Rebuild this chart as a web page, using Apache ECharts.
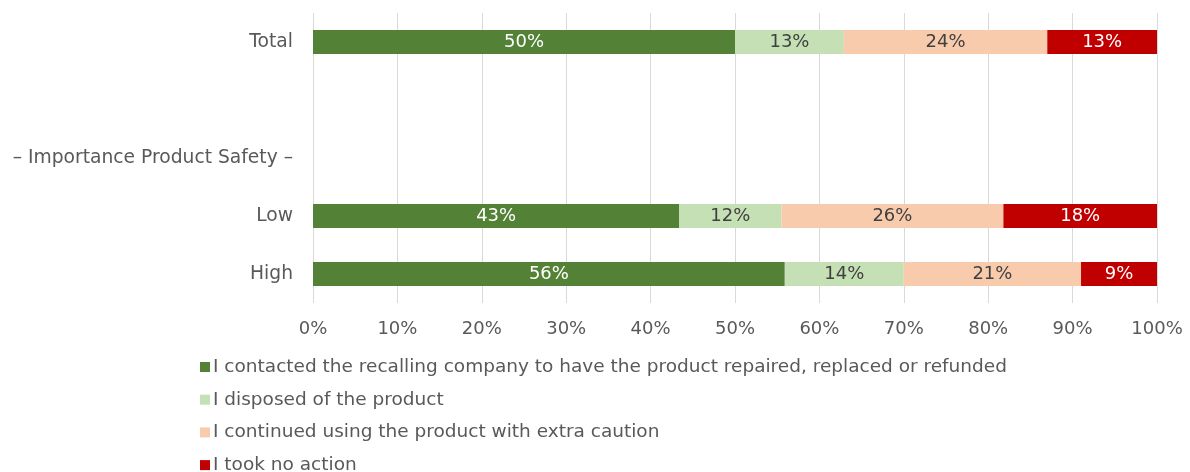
<!DOCTYPE html>
<html>
<head>
<meta charset="utf-8">
<script src="https://cdn.jsdelivr.net/npm/echarts@6/dist/echarts.min.js"></script>
<style>
  html, body { margin: 0; padding: 0; background: #fff; }
  #chart { width: 1190px; height: 472px; }
</style>
</head>
<body>
<div id="chart"></div>
<script>
// Rows, bottom to top
const categories = ['High', 'Low', '– Importance Product Safety –', '', 'Total'];

// Share of respondents (%) per action
const contacted = [55.9, 43.4, null, null, 50.0];
const disposed  = [14.1, 12.1, null, null, 12.9];
const continued = [21.0, 26.3, null, null, 24.1];
const noAction  = [9.0, 18.2, null, null, 13.0];

const seriesNames = [
  'I contacted the recalling company to have the product repaired, replaced or refunded',
  'I disposed of the product',
  'I continued using the product with extra caution',
  'I took no action'
];
const seriesColors = ['#538135', '#C5E0B4', '#F8CBAD', '#C00000'];
const labelColors = ['#ffffff', '#404040', '#404040', '#ffffff'];
const seriesData = [contacted, disposed, continued, noAction];

const FONT = '"DejaVu Sans", sans-serif';

const chart = echarts.init(document.getElementById('chart'), null, { renderer: 'canvas' });

chart.setOption({
  animation: false,
  textStyle: { fontFamily: FONT },
  grid: { left: 313, right: 33, top: 13, bottom: 169 },
  xAxis: {
    type: 'value',
    min: 0,
    max: 100,
    interval: 10,
    axisLabel: {
      formatter: v => v + '%',
      color: '#595959',
      fontSize: 18,
      fontFamily: FONT,
      margin: 17
    },
    axisLine: { show: false },
    axisTick: { show: false },
    splitLine: { show: true, lineStyle: { color: '#d9d9d9', width: 1 } }
  },
  yAxis: {
    type: 'category',
    data: categories,
    axisLine: { show: false },
    axisTick: { show: false },
    axisLabel: {
      color: '#595959',
      fontSize: 18.7,
      fontFamily: FONT,
      margin: 20,
      padding: [3, 0, 0, 0]
    }
  },
  legend: {
    orient: 'vertical',
    left: 195,
    top: 352,
    height: 150,
    itemWidth: 10,
    itemHeight: 10,
    itemGap: 12.7,
    icon: 'rect',
    textStyle: { color: '#595959', fontSize: 18.5, fontFamily: FONT, lineHeight: 20, padding: [0, 0, 0, -2] },
    data: seriesNames
  },
  series: seriesData.map((d, i) => ({
    name: seriesNames[i],
    type: 'bar',
    stack: 'total',
    data: d,
    barWidth: 24,
    itemStyle: { color: seriesColors[i] },
    label: {
      show: true,
      position: 'inside',
      formatter: p => Math.round(p.value) + '%',
      color: labelColors[i],
      fontSize: 18,
      fontFamily: FONT,
      padding: [3, 0, 0, 0]
    }
  }))
});
</script>
</body>
</html>
